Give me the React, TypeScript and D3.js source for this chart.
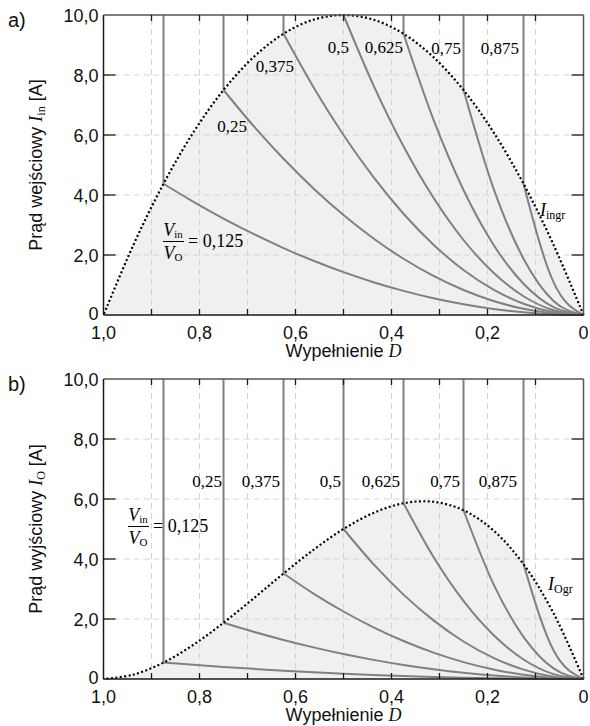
import React from "react";
import * as d3 from "d3";

// Duty cycle sample points (D)
const dGrid = [0, 0.0625, 0.125, 0.1875, 0.25, 0.3125, 0.375, 0.4375, 0.5, 0.5625, 0.625, 0.6875, 0.75, 0.8125, 0.875, 0.9375, 1];

const ratioValues = [0.125, 0.25, 0.375, 0.5, 0.625, 0.75, 0.875];
const ratioLabels = ["0,125", "0,25", "0,375", "0,5", "0,625", "0,75", "0,875"];

const xTickValues = [1, 0.8, 0.6, 0.4, 0.2, 0];
const xTickLabels = ["1,0", "0,8", "0,6", "0,4", "0,2", "0"];
const xGridValues = [0.1, 0.2, 0.3, 0.4, 0.5, 0.6, 0.7, 0.8, 0.9];
const yTickValues = [0, 2, 4, 6, 8, 10];
const yTickLabels = ["0", "2,0", "4,0", "6,0", "8,0", "10,0"];

// Panel a: boundary input current I_ingr
const inputBoundary = [0, 2.344, 4.375, 6.094, 7.5, 8.594, 9.375, 9.844, 10, 9.844, 9.375, 8.594, 7.5, 6.094, 4.375, 2.344, 0];
// Panel a: DCM input current curves (values at dGrid from D=0 up to the boundary point)
const inputCurve0125 = [0, 0.022, 0.089, 0.201, 0.357, 0.558, 0.804, 1.094, 1.429, 1.808, 2.232, 2.701, 3.214, 3.772, 4.375];
const inputCurve025 = [0, 0.052, 0.208, 0.469, 0.833, 1.302, 1.875, 2.552, 3.333, 4.219, 5.208, 6.302, 7.5];
const inputCurve0375 = [0, 0.094, 0.375, 0.844, 1.5, 2.344, 3.375, 4.594, 6.0, 7.594, 9.375];
const inputCurve05 = [0, 0.156, 0.625, 1.406, 2.5, 3.906, 5.625, 7.656, 10];
const inputCurve0625 = [0, 0.26, 1.042, 2.344, 4.167, 6.51, 9.375];
const inputCurve075 = [0, 0.469, 1.875, 4.219, 7.5];
const inputCurve0875 = [0, 1.094, 4.375];

// Panel b: boundary output current I_Ogr
const outputBoundary = [0, 2.197, 3.828, 4.951, 5.625, 5.908, 5.859, 5.537, 5.0, 4.307, 3.516, 2.686, 1.875, 1.143, 0.547, 0.146, 0];
const outputCurve0125 = [0, 0.003, 0.011, 0.025, 0.045, 0.07, 0.1, 0.137, 0.179, 0.226, 0.279, 0.338, 0.402, 0.472, 0.547];
const outputCurve025 = [0, 0.013, 0.052, 0.117, 0.208, 0.326, 0.469, 0.638, 0.833, 1.055, 1.302, 1.576, 1.875];
const outputCurve0375 = [0, 0.035, 0.141, 0.316, 0.563, 0.879, 1.266, 1.723, 2.25, 2.848, 3.516];
const outputCurve05 = [0, 0.078, 0.313, 0.703, 1.25, 1.953, 2.813, 3.828, 5.0];
const outputCurve0625 = [0, 0.163, 0.651, 1.465, 2.604, 4.069, 5.859];
const outputCurve075 = [0, 0.352, 1.406, 3.164, 5.625];
const outputCurve0875 = [0, 0.957, 3.828];

const inputCurves = [inputCurve0125, inputCurve025, inputCurve0375, inputCurve05, inputCurve0625, inputCurve075, inputCurve0875];
const outputCurves = [outputCurve0125, outputCurve025, outputCurve0375, outputCurve05, outputCurve0625, outputCurve075, outputCurve0875];

const SANS = "'Liberation Sans', Arial, sans-serif";
const SERIF = "'Liberation Serif', 'Times New Roman', serif";

const LEFT = 103.5;
const RIGHT = 583.5;
const PH = 300;

type LabelPos = { x: number; y: number };

function Fraction({ x, y, text }: { x: number; y: number; text: string }) {
  const fs = 18;
  return (
    <g fontFamily={SERIF} fill="#000">
      <text x={x + 10} y={y - 11} textAnchor="middle" fontSize={fs}>
        <tspan fontStyle="italic">V</tspan>
        <tspan fontSize={11} dy={2}>in</tspan>
      </text>
      <line x1={x} x2={x + 21} y1={y - 5.5} y2={y - 5.5} stroke="#000" strokeWidth={1} />
      <text x={x + 10} y={y + 12} textAnchor="middle" fontSize={fs}>
        <tspan fontStyle="italic">V</tspan>
        <tspan fontSize={11} dy={2}>O</tspan>
      </text>
      <text x={x + 25} y={y} fontSize={fs}>= {text}</text>
    </g>
  );
}

function Panel(props: {
  top: number;
  letter: string;
  titleWord: string;
  titleSub: string;
  boundary: number[];
  curves: number[][];
  labelPos: LabelPos[];
  fracPos: LabelPos;
  bName: string;
  bPos: LabelPos;
}) {
  const { top, letter, titleWord, titleSub, boundary, curves, labelPos, fracPos, bName, bPos } = props;
  const x = d3.scaleLinear().domain([1, 0]).range([LEFT, RIGHT]);
  const y = d3.scaleLinear().domain([0, 10]).range([top + PH, top]);

  const bPts: [number, number][] = dGrid.map((d, i) => [d, boundary[i]]);
  const area = d3
    .area<[number, number]>()
    .x((d) => x(d[0]))
    .y0(y(0))
    .y1((d) => y(d[1]))
    .curve(d3.curveCatmullRom.alpha(0.5));
  const bLine = d3
    .line<[number, number]>()
    .x((d) => x(d[0]))
    .y((d) => y(d[1]))
    .curve(d3.curveCatmullRom.alpha(0.5));
  const cLine = d3
    .line<[number, number]>()
    .x((d) => x(d[0]))
    .y((d) => y(d[1]))
    .curve(d3.curveMonotoneX);

  const gridColor = "#d4d4d4";
  const axisDark = "#1a1a1a";
  const axisGray = "#555";
  const curveColor = "#808080";

  return (
    <g>
      <path d={area(bPts) || ""} fill="#f0f0f0" />
      {/* grid */}
      {xGridValues.map((v) => (
        <line key={"gx" + v} x1={x(v)} x2={x(v)} y1={y(0)} y2={y(10)} stroke={gridColor} strokeWidth={1} strokeDasharray="6,4" />
      ))}
      {yTickValues.filter((v) => v > 0 && v < 10).map((v) => (
        <line key={"gy" + v} x1={x(1)} x2={x(0)} y1={y(v)} y2={y(v)} stroke={gridColor} strokeWidth={1} strokeDasharray="6,4" />
      ))}
      {/* curves */}
      {curves.map((vals, ci) => {
        const pts: [number, number][] = vals.map((v, i) => [dGrid[i], v]);
        const last = pts[pts.length - 1];
        const ordered = pts.slice().reverse();
        return (
          <g key={"c" + ci}>
            <path d={cLine(ordered) || ""} fill="none" stroke={curveColor} strokeWidth={2} />
            <line x1={x(last[0])} x2={x(last[0])} y1={y(10)} y2={y(last[1])} stroke={curveColor} strokeWidth={2} />
          </g>
        );
      })}
      {/* boundary */}
      <path d={bLine(bPts) || ""} fill="none" stroke="#000" strokeWidth={2.2} strokeDasharray="2,2.4" />
      {/* frame */}
      <line x1={LEFT} x2={RIGHT} y1={y(10)} y2={y(10)} stroke={axisGray} strokeWidth={1.5} />
      <line x1={RIGHT} x2={RIGHT} y1={y(10)} y2={y(0)} stroke={axisGray} strokeWidth={1.5} />
      <line x1={LEFT} x2={RIGHT} y1={y(0)} y2={y(0)} stroke={axisDark} strokeWidth={1.5} />
      <line x1={LEFT} x2={LEFT} y1={y(10)} y2={y(0)} stroke={axisDark} strokeWidth={1.5} />
      {/* ticks */}
      {xGridValues.map((v) => (
        <g key={"tx" + v}>
          <line x1={x(v)} x2={x(v)} y1={y(0)} y2={y(0) - 6} stroke={axisDark} strokeWidth={1.3} />
          <line x1={x(v)} x2={x(v)} y1={y(10)} y2={y(10) + 6} stroke={axisDark} strokeWidth={1.3} />
        </g>
      ))}
      {yTickValues.filter((v) => v > 0 && v < 10).map((v) => (
        <g key={"ty" + v}>
          <line x1={LEFT} x2={LEFT + 12} y1={y(v)} y2={y(v)} stroke={axisDark} strokeWidth={1.3} />
          <line x1={RIGHT} x2={RIGHT - 12} y1={y(v)} y2={y(v)} stroke={axisDark} strokeWidth={1.3} />
        </g>
      ))}
      {/* tick labels */}
      {xTickValues.map((v, i) => (
        <text key={"lx" + v} x={x(v)} y={y(0) + 23.5} textAnchor="middle" fontFamily={SANS} fontSize={18} fill="#111">
          {xTickLabels[i]}
        </text>
      ))}
      {yTickValues.map((v, i) => (
        <text key={"ly" + v} x={LEFT - 5} y={y(v) + (v === 0 ? 5 : 6.5)} textAnchor="end" fontFamily={SANS} fontSize={18} fill="#111">
          {yTickLabels[i]}
        </text>
      ))}
      {/* axis titles */}
      <text x={LEFT + (RIGHT - LEFT) / 2} y={y(0) + 42} textAnchor="middle" fontFamily={SANS} fontSize={18} fill="#111">
        Wypełnienie <tspan fontFamily={SERIF} fontStyle="italic">D</tspan>
      </text>
      <text transform={`translate(42,${top + PH / 2}) rotate(-90)`} textAnchor="middle" fontFamily={SANS} fontSize={18} fill="#111">
        {titleWord}{" "}
        <tspan fontFamily={SERIF} fontStyle="italic">I</tspan>
        <tspan fontFamily={SERIF} fontSize={12} dy={3}>{titleSub}</tspan>
        <tspan dy={-3}> [A]</tspan>
      </text>
      <text x={8} y={top + 12} fontFamily={SANS} fontSize={20} fill="#111">{letter}</text>
      {/* curve labels */}
      {ratioLabels.map((lab, i) =>
        i === 0 ? (
          <Fraction key={"fr"} x={fracPos.x} y={fracPos.y} text={lab} />
        ) : (
          <text key={"cl" + i} x={labelPos[i].x} y={labelPos[i].y} textAnchor="end" fontFamily={SERIF} fontSize={17} fill="#000">
            {lab}
          </text>
        )
      )}
      <text x={bPos.x} y={bPos.y} fontFamily={SERIF} fontSize={18} fill="#000">
        <tspan fontStyle="italic">I</tspan>
        <tspan fontSize={12} dy={3}>{bName}</tspan>
      </text>
    </g>
  );
}

export default function App() {
  const labelsA: LabelPos[] = [
    { x: 0, y: 0 },
    { x: 247, y: 132 },
    { x: 294, y: 72 },
    { x: 349, y: 53 },
    { x: 403, y: 53 },
    { x: 461, y: 54 },
    { x: 519, y: 54 },
  ];
  const labelsB: LabelPos[] = [
    { x: 0, y: 0 },
    { x: 222, y: 487 },
    { x: 280, y: 487 },
    { x: 341, y: 487 },
    { x: 400, y: 487 },
    { x: 460, y: 487 },
    { x: 517, y: 487 },
  ];
  return (
    <svg width={590} height={726} style={{ position: "absolute", left: 0, top: 0, background: "#fff" }}>
      <Panel
        top={15}
        letter="a)"
        titleWord="Prąd wejściowy"
        titleSub="in"
        boundary={inputBoundary}
        curves={inputCurves}
        labelPos={labelsA}
        fracPos={{ x: 163, y: 247 }}
        bName="ingr"
        bPos={{ x: 540, y: 216 }}
      />
      <Panel
        top={379}
        letter="b)"
        titleWord="Prąd wyjściowy"
        titleSub="O"
        boundary={outputBoundary}
        curves={outputCurves}
        labelPos={labelsB}
        fracPos={{ x: 128, y: 532 }}
        bName="Ogr"
        bPos={{ x: 548, y: 590 }}
      />
    </svg>
  );
}
